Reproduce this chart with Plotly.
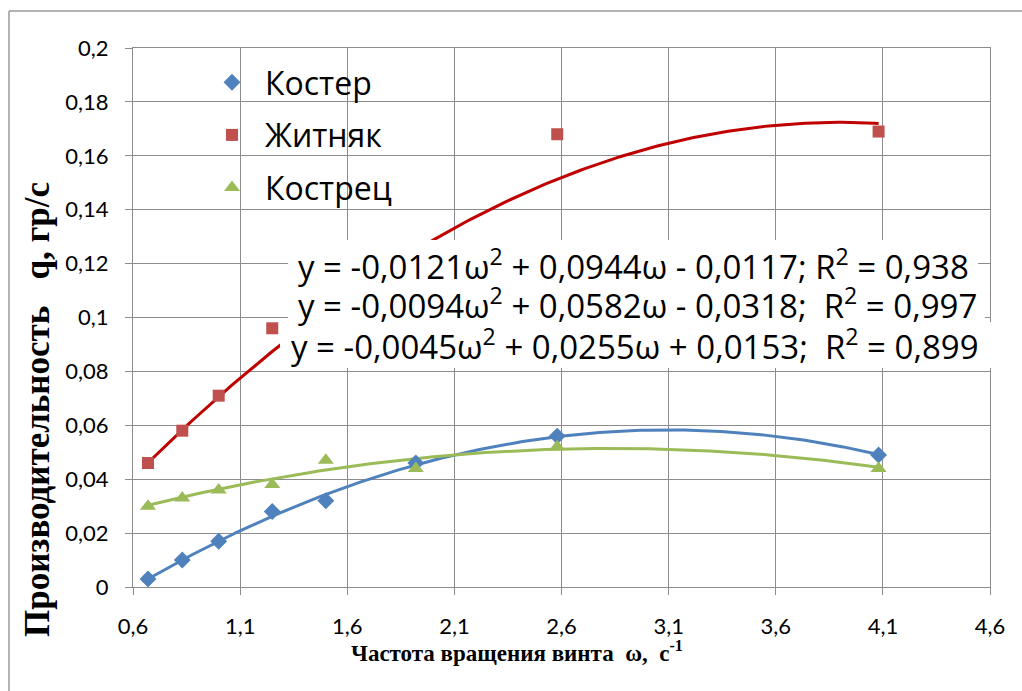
import numpy as np
import plotly.graph_objects as go

# Rotation frequency of the screw, 1/s
omega_koster = [0.67, 0.83, 1.0, 1.25, 1.5, 1.92, 2.58, 4.08]
q_koster = [0.003, 0.010, 0.017, 0.028, 0.032, 0.046, 0.056, 0.049]

omega_zhitnyak = [0.67, 0.83, 1.0, 1.25, 2.58, 4.08]
q_zhitnyak = [0.046, 0.058, 0.071, 0.096, 0.168, 0.169]

omega_kostrets = [0.67, 0.83, 1.0, 1.25, 1.5, 1.92, 2.58, 4.08]
q_kostrets = [0.030, 0.033, 0.036, 0.038, 0.047, 0.044, 0.052, 0.044]

# Quadratic trend coefficients (a, b, c) for y = a*w^2 + b*w + c, and R^2
coef_zhitnyak = [-0.0121, 0.0944, -0.0117]
coef_koster = [-0.0094, 0.0582, -0.0318]
coef_kostrets = [-0.0045, 0.0255, 0.0153]
r2_zhitnyak = 0.938
r2_koster = 0.997
r2_kostrets = 0.899

x_ticks = [0.6, 1.1, 1.6, 2.1, 2.6, 3.1, 3.6, 4.1, 4.6]
y_ticks = [0, 0.02, 0.04, 0.06, 0.08, 0.1, 0.12, 0.14, 0.16, 0.18, 0.2]

BLUE = "#4F81BD"
RED = "#C0504D"
GREEN = "#9BBB59"
GRID = "#8C8C8C"
TICKFONT = "Lato, 'Open Sans', sans-serif"
SANS = "'Open Sans', Lato, sans-serif"
SERIF = "'Liberation Serif', 'Times New Roman', serif"


def num(v, digits):
    return f"{v:.{digits}f}".replace(".", ",")


def eq_text(coef, r2, gap):
    a, b, c = coef
    sb = "+" if b >= 0 else "-"
    sc = "+" if c >= 0 else "-"
    return (f"y = {num(a, 4)}ω<sup>2</sup> {sb} {num(abs(b), 4)}ω {sc} "
            f"{num(abs(c), 4)};{gap}R<sup>2</sup> = {num(r2, 3)}")


def trend(xs, coef):
    w = np.linspace(min(xs), max(xs), 200)
    return w, np.polyval(coef, w)


fig = go.Figure()

series = [
    ("Костер", omega_koster, q_koster, coef_koster, BLUE, "#4F81BD", "diamond", 13),
    ("Житняк", omega_zhitnyak, q_zhitnyak, coef_zhitnyak, RED, "#C00000", "square", 12),
    ("Кострец", omega_kostrets, q_kostrets, coef_kostrets, GREEN, "#9BBB59", "triangle-up", 14),
]

for name, xs, ys, coef, col, lcol, sym, size in series:
    w, q = trend(xs, coef)
    fig.add_trace(go.Scatter(
        x=w, y=q, mode="lines", line=dict(color=lcol, width=3),
        showlegend=False, hoverinfo="skip"))

for name, xs, ys, coef, col, lcol, sym, size in series:
    fig.add_trace(go.Scatter(
        x=xs, y=ys, mode="markers", name=name, legendgroup=name,
        marker=dict(symbol=sym, size=size, color=col)))

# Plot-area geometry in pixels (used to place the frame and labels)
W, H = 1022, 691
L, R, T, B = 133, 32, 48, 104
pw, ph = W - L - R, H - T - B


def px(xp):
    return (xp - L) / pw


def py(yp):
    return (H - B - yp) / ph


# Equation labels: text, left edge, vertical centre, white backing box
eqs = [
    (eq_text(coef_zhitnyak, r2_zhitnyak, " "), 296, 264, (288, 978, 240, 285)),
    (eq_text(coef_koster, r2_koster, "  "), 296, 303, (288, 985, 285, 322)),
    (eq_text(coef_kostrets, r2_kostrets, "  "), 289, 344, (280, 996, 322, 368)),
]

annotations = []
shapes = []
for txt, xl, yc, (bx0, bx1, by0, by1) in eqs:
    shapes.append(dict(
        type="rect", xref="paper", yref="paper",
        x0=px(bx0), x1=px(bx1), y0=py(by1), y1=py(by0),
        fillcolor="white", line=dict(width=0), layer="above"))
    annotations.append(dict(
        text=txt, xref="paper", yref="paper", x=px(xl), y=py(yc),
        xanchor="left", yanchor="middle", showarrow=False,
        font=dict(family=SANS, size=33, color="black")))

annotations.append(dict(
    text="<b>Производительность   q, гр/с</b>", xref="paper", yref="paper",
    x=px(38), y=py(410), textangle=-90, showarrow=False,
    xanchor="center", yanchor="middle",
    font=dict(family=SERIF, size=35, color="black")))

annotations.append(dict(
    text="<b>Частота вращения винта  ω,  с<sup>-1</sup></b>", xref="paper", yref="paper",
    x=px(517), y=py(651), showarrow=False, xanchor="center", yanchor="middle",
    font=dict(family=SERIF, size=23, color="black")))

# Outer chart frame (left and top edges)
shapes += [
    dict(type="line", xref="paper", yref="paper",
         x0=px(9), x1=px(9), y0=py(691), y1=py(11),
         line=dict(color="#9A9A9A", width=1.5), layer="below"),
    dict(type="line", xref="paper", yref="paper",
         x0=px(9), x1=px(1022), y0=py(11), y1=py(11),
         line=dict(color="#9A9A9A", width=1.5), layer="below"),
]

fig.update_layout(
    width=W, height=H,
    margin=dict(l=L, r=R, t=T, b=B),
    paper_bgcolor="white", plot_bgcolor="white",
    separators=", ",
    font=dict(family=SANS, color="black"),
    showlegend=True,
    legend=dict(
        x=px(199), y=py(55), xanchor="left", yanchor="top",
        bgcolor="rgba(0,0,0,0)", borderwidth=0,
        font=dict(family=SANS, size=32, color="black"),
        itemwidth=56, tracegroupgap=8),
    annotations=annotations,
    shapes=shapes,
)

fig.update_xaxes(
    range=[0.6, 4.6], tickvals=x_ticks, ticktext=[num(v, 1) for v in x_ticks],
    showgrid=True, gridcolor=GRID, gridwidth=1.3,
    showline=True, linecolor=GRID, linewidth=1.3, mirror=True,
    ticks="outside", ticklen=7, tickcolor=GRID, tickwidth=1.3,
    ticklabelstandoff=12,
    tickfont=dict(family=TICKFONT, size=22, color="black"), zeroline=False)

fig.update_yaxes(
    range=[0, 0.2], tickvals=y_ticks,
    ticktext=["0" if v == 0 else num(v, 2).rstrip("0") for v in y_ticks],
    showgrid=True, gridcolor=GRID, gridwidth=1.3,
    showline=True, linecolor=GRID, linewidth=1.3, mirror=True,
    ticks="outside", ticklen=7, tickcolor=GRID, tickwidth=1.3,
    ticklabelstandoff=12,
    tickfont=dict(family=TICKFONT, size=22, color="black"), zeroline=False)

fig.write_html(
    "out.html",
    post_script=("document.body.style.margin='0';"
                 "document.body.style.overflow='hidden';"
                 "document.documentElement.style.overflow='hidden';"))
